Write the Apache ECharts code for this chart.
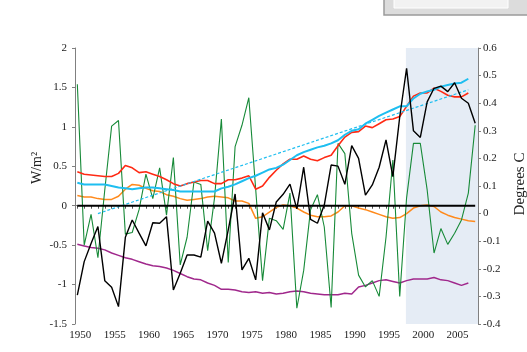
<!DOCTYPE html>
<html>
<head>
<meta charset="utf-8">
<title>Forcing and temperature</title>
<script src="https://cdn.jsdelivr.net/npm/echarts@6/dist/echarts.min.js"></script>
<style>
html, body {margin: 0; padding: 0; background: #fff;}
#main {width: 527px; height: 352px;}
</style>
</head>
<body>
<div id="main"></div>
<script>
// years on the x axis
var years = [1950,1951,1952,1953,1954,1955,1956,1957,1958,1959,
             1960,1961,1962,1963,1964,1965,1966,1967,1968,1969,
             1970,1971,1972,1973,1974,1975,1976,1977,1978,1979,
             1980,1981,1982,1983,1984,1985,1986,1987,1988,1989,
             1990,1991,1992,1993,1994,1995,1996,1997,1998,1999,
             2000,2001,2002,2003,2004,2005,2006,2007,2008];
var yearLabels = [1950,1955,1960,1965,1970,1975,1980,1985,1990,1995,2000,2005];

// W/m2 series (left axis)
var greenVals = [1.54,-0.50,-0.11,-0.66,0.20,1.01,1.08,-0.36,-0.34,-0.05,
                 0.40,0.09,0.48,-0.12,0.61,-0.75,-0.40,0.30,0.27,-0.57,
                 0.10,1.10,-0.72,0.75,1.02,1.37,0.21,-0.95,-0.16,-0.19,
                 -0.30,0.16,-1.30,-0.82,-0.05,0.14,-0.27,-1.29,0.79,0.66,
                 -0.35,-0.88,-1.03,-0.95,-1.15,-0.40,0.58,-1.15,0.10,0.79,
                 0.79,0.20,-0.60,-0.29,-0.49,-0.35,-0.18,0.16,1.02];
var redVals = [0.43,0.40,0.39,0.38,0.37,0.37,0.41,0.51,0.48,0.42,
               0.43,0.40,0.37,0.33,0.28,0.25,0.28,0.30,0.32,0.32,
               0.28,0.28,0.33,0.33,0.35,0.38,0.21,0.25,0.36,0.45,
               0.53,0.59,0.59,0.63,0.59,0.57,0.61,0.64,0.76,0.87,
               0.93,0.94,1.01,0.99,1.04,1.09,1.10,1.13,1.26,1.39,
               1.43,1.43,1.49,1.45,1.40,1.38,1.38,1.43];
var cyanVals = [0.29,0.27,0.27,0.27,0.27,0.25,0.23,0.22,0.21,0.22,
                0.23,0.23,0.22,0.21,0.20,0.18,0.18,0.18,0.18,0.18,
                0.18,0.22,0.24,0.27,0.31,0.35,0.38,0.42,0.46,0.48,
                0.52,0.58,0.64,0.68,0.71,0.74,0.76,0.79,0.83,0.90,
                0.95,0.97,1.04,1.09,1.14,1.18,1.22,1.26,1.26,1.36,
                1.42,1.45,1.47,1.51,1.53,1.55,1.56,1.61];
var orangeVals = [0.13,0.11,0.11,0.09,0.08,0.08,0.12,0.21,0.27,0.26,
                  0.22,0.19,0.18,0.14,0.12,0.09,0.07,0.08,0.09,0.11,
                  0.12,0.11,0.10,0.06,0.06,0.03,-0.16,-0.14,-0.08,-0.02,
                  0.01,0.00,-0.03,-0.08,-0.12,-0.14,-0.14,-0.13,-0.08,0.00,
                  0.00,-0.03,-0.05,-0.08,-0.11,-0.14,-0.16,-0.15,-0.10,-0.03,
                  0.00,0.01,-0.01,-0.08,-0.12,-0.15,-0.17,-0.19,-0.20];
var purpleVals = [-0.49,-0.51,-0.53,-0.54,-0.56,-0.60,-0.63,-0.66,-0.68,-0.71,
                  -0.74,-0.76,-0.77,-0.79,-0.82,-0.86,-0.90,-0.93,-0.94,-0.98,
                  -1.01,-1.06,-1.06,-1.07,-1.09,-1.10,-1.09,-1.11,-1.10,-1.12,
                  -1.11,-1.09,-1.08,-1.09,-1.11,-1.12,-1.13,-1.13,-1.13,-1.11,
                  -1.12,-1.03,-1.01,-0.98,-0.95,-0.94,-0.96,-0.98,-0.95,-0.93,
                  -0.93,-0.93,-0.91,-0.94,-0.95,-0.98,-1.01,-0.98];
var trendYears = [1953, 2007];
var trendVals = [-0.10, 1.47];
var zeroYears = [1950, 2008];
var zeroVals = [0, 0];

// Degrees C (right axis)
var tempVals = [-0.295,-0.174,-0.108,-0.047,-0.243,-0.267,-0.337,-0.086,-0.023,-0.071,
                -0.117,-0.033,-0.035,-0.011,-0.277,-0.216,-0.150,-0.150,-0.158,-0.027,
                -0.071,-0.180,-0.059,0.071,-0.204,-0.162,-0.240,0.003,-0.059,0.042,
                0.070,0.107,0.017,0.168,-0.021,-0.035,0.031,0.176,0.172,0.106,
                0.246,0.200,0.067,0.104,0.168,0.267,0.134,0.351,0.526,0.300,
                0.276,0.405,0.454,0.462,0.442,0.474,0.418,0.400,0.327];

var shadeFrom = 1997.9;
var shadeTo = 2008.41;

function pairs(xs, vals) {
  return vals.map(function (v, i) { return [xs[i], v]; });
}

var serif = '"Liberation Serif", "Times New Roman", serif';
var chart = echarts.init(document.getElementById('main'));

function line(name, xs, vals, color, width, yIdx, dash) {
  return {
    name: name, type: 'line', yAxisIndex: yIdx || 0,
    data: pairs(xs, vals), symbol: 'none', smooth: false,
    lineStyle: {color: color, width: width, type: dash || 'solid'}, silent: true
  };
}

chart.setOption({
  animation: false,
  grid: {left: 75, right: 49, top: 48, bottom: 28, outerBoundsMode: 'none'},
  xAxis: {
    type: 'value', min: 1949.66, max: 2008.41,
    axisLine: {lineStyle: {color: '#808080', width: 1}},
    axisTick: {show: true, length: 3, customValues: years, lineStyle: {color: '#555'}},
    axisLabel: {customValues: yearLabels, fontFamily: serif, fontSize: 11, color: '#222',
                margin: 6, padding: [0, 0, 0, 6], formatter: function (v) { return String(v); }},
    splitLine: {show: false}
  },
  yAxis: [{
    type: 'value', min: -1.5, max: 2, interval: 0.5,
    axisLine: {show: true, lineStyle: {color: '#808080'}},
    axisTick: {show: true, length: 3, lineStyle: {color: '#808080'}},
    axisLabel: {fontFamily: serif, fontSize: 11, color: '#222', margin: 8},
    splitLine: {show: false}
  }, {
    type: 'value', min: -0.4, max: 0.6, interval: 0.1, position: 'right',
    axisLine: {show: true, lineStyle: {color: '#808080'}},
    axisTick: {show: true, length: 3, lineStyle: {color: '#808080'}},
    axisLabel: {fontFamily: serif, fontSize: 11, color: '#222', margin: 5,
                formatter: function (v) { return Math.abs(v) < 1e-9 ? '0' : v.toFixed(1); }},
    splitLine: {show: false}
  }],
  graphic: [
    {type: 'rect', shape: {x: 384, y: -4, width: 150, height: 19},
     style: {fill: '#dcdcdc', stroke: '#9a9a9a', lineWidth: 1.5}},
    {type: 'rect', shape: {x: 394, y: -4, width: 114, height: 12},
     style: {fill: '#f2f2f2', stroke: '#ffffff', lineWidth: 1}},
    {type: 'text', x: 37, y: 168, rotation: Math.PI / 2,
     style: {text: 'W/m²', font: '14px ' + serif, fill: '#222', textAlign: 'center', textVerticalAlign: 'middle'}},
    {type: 'text', x: 520, y: 184, rotation: Math.PI / 2,
     style: {text: 'Degrees C', font: '15px ' + serif, fill: '#222', textAlign: 'center', textVerticalAlign: 'middle'}}
  ],
  series: [
    {
      name: 'shade', type: 'line', data: [], z: 1, silent: true,
      markArea: {silent: true, itemStyle: {color: '#e5ecf5'},
                 data: [[{xAxis: shadeFrom}, {xAxis: shadeTo}]]}
    },
    line('purple', years, purpleVals, '#a0288c', 1.5),
    line('orange', years, orangeVals, '#ff8a1c', 1.5),
    line('green', years, greenVals, '#178a38', 1.1),
    line('red', years, redVals, '#ff2a14', 1.6),
    line('cyan', years, cyanVals, '#1ebef0', 2),
    line('trend', trendYears, trendVals, '#1ebef0', 1.2, 0, [3, 2]),
    line('temp', years, tempVals, '#000000', 1.4, 1),
    line('zero', zeroYears, zeroVals, '#000000', 2)
  ]
});
</script>
</body>
</html>
